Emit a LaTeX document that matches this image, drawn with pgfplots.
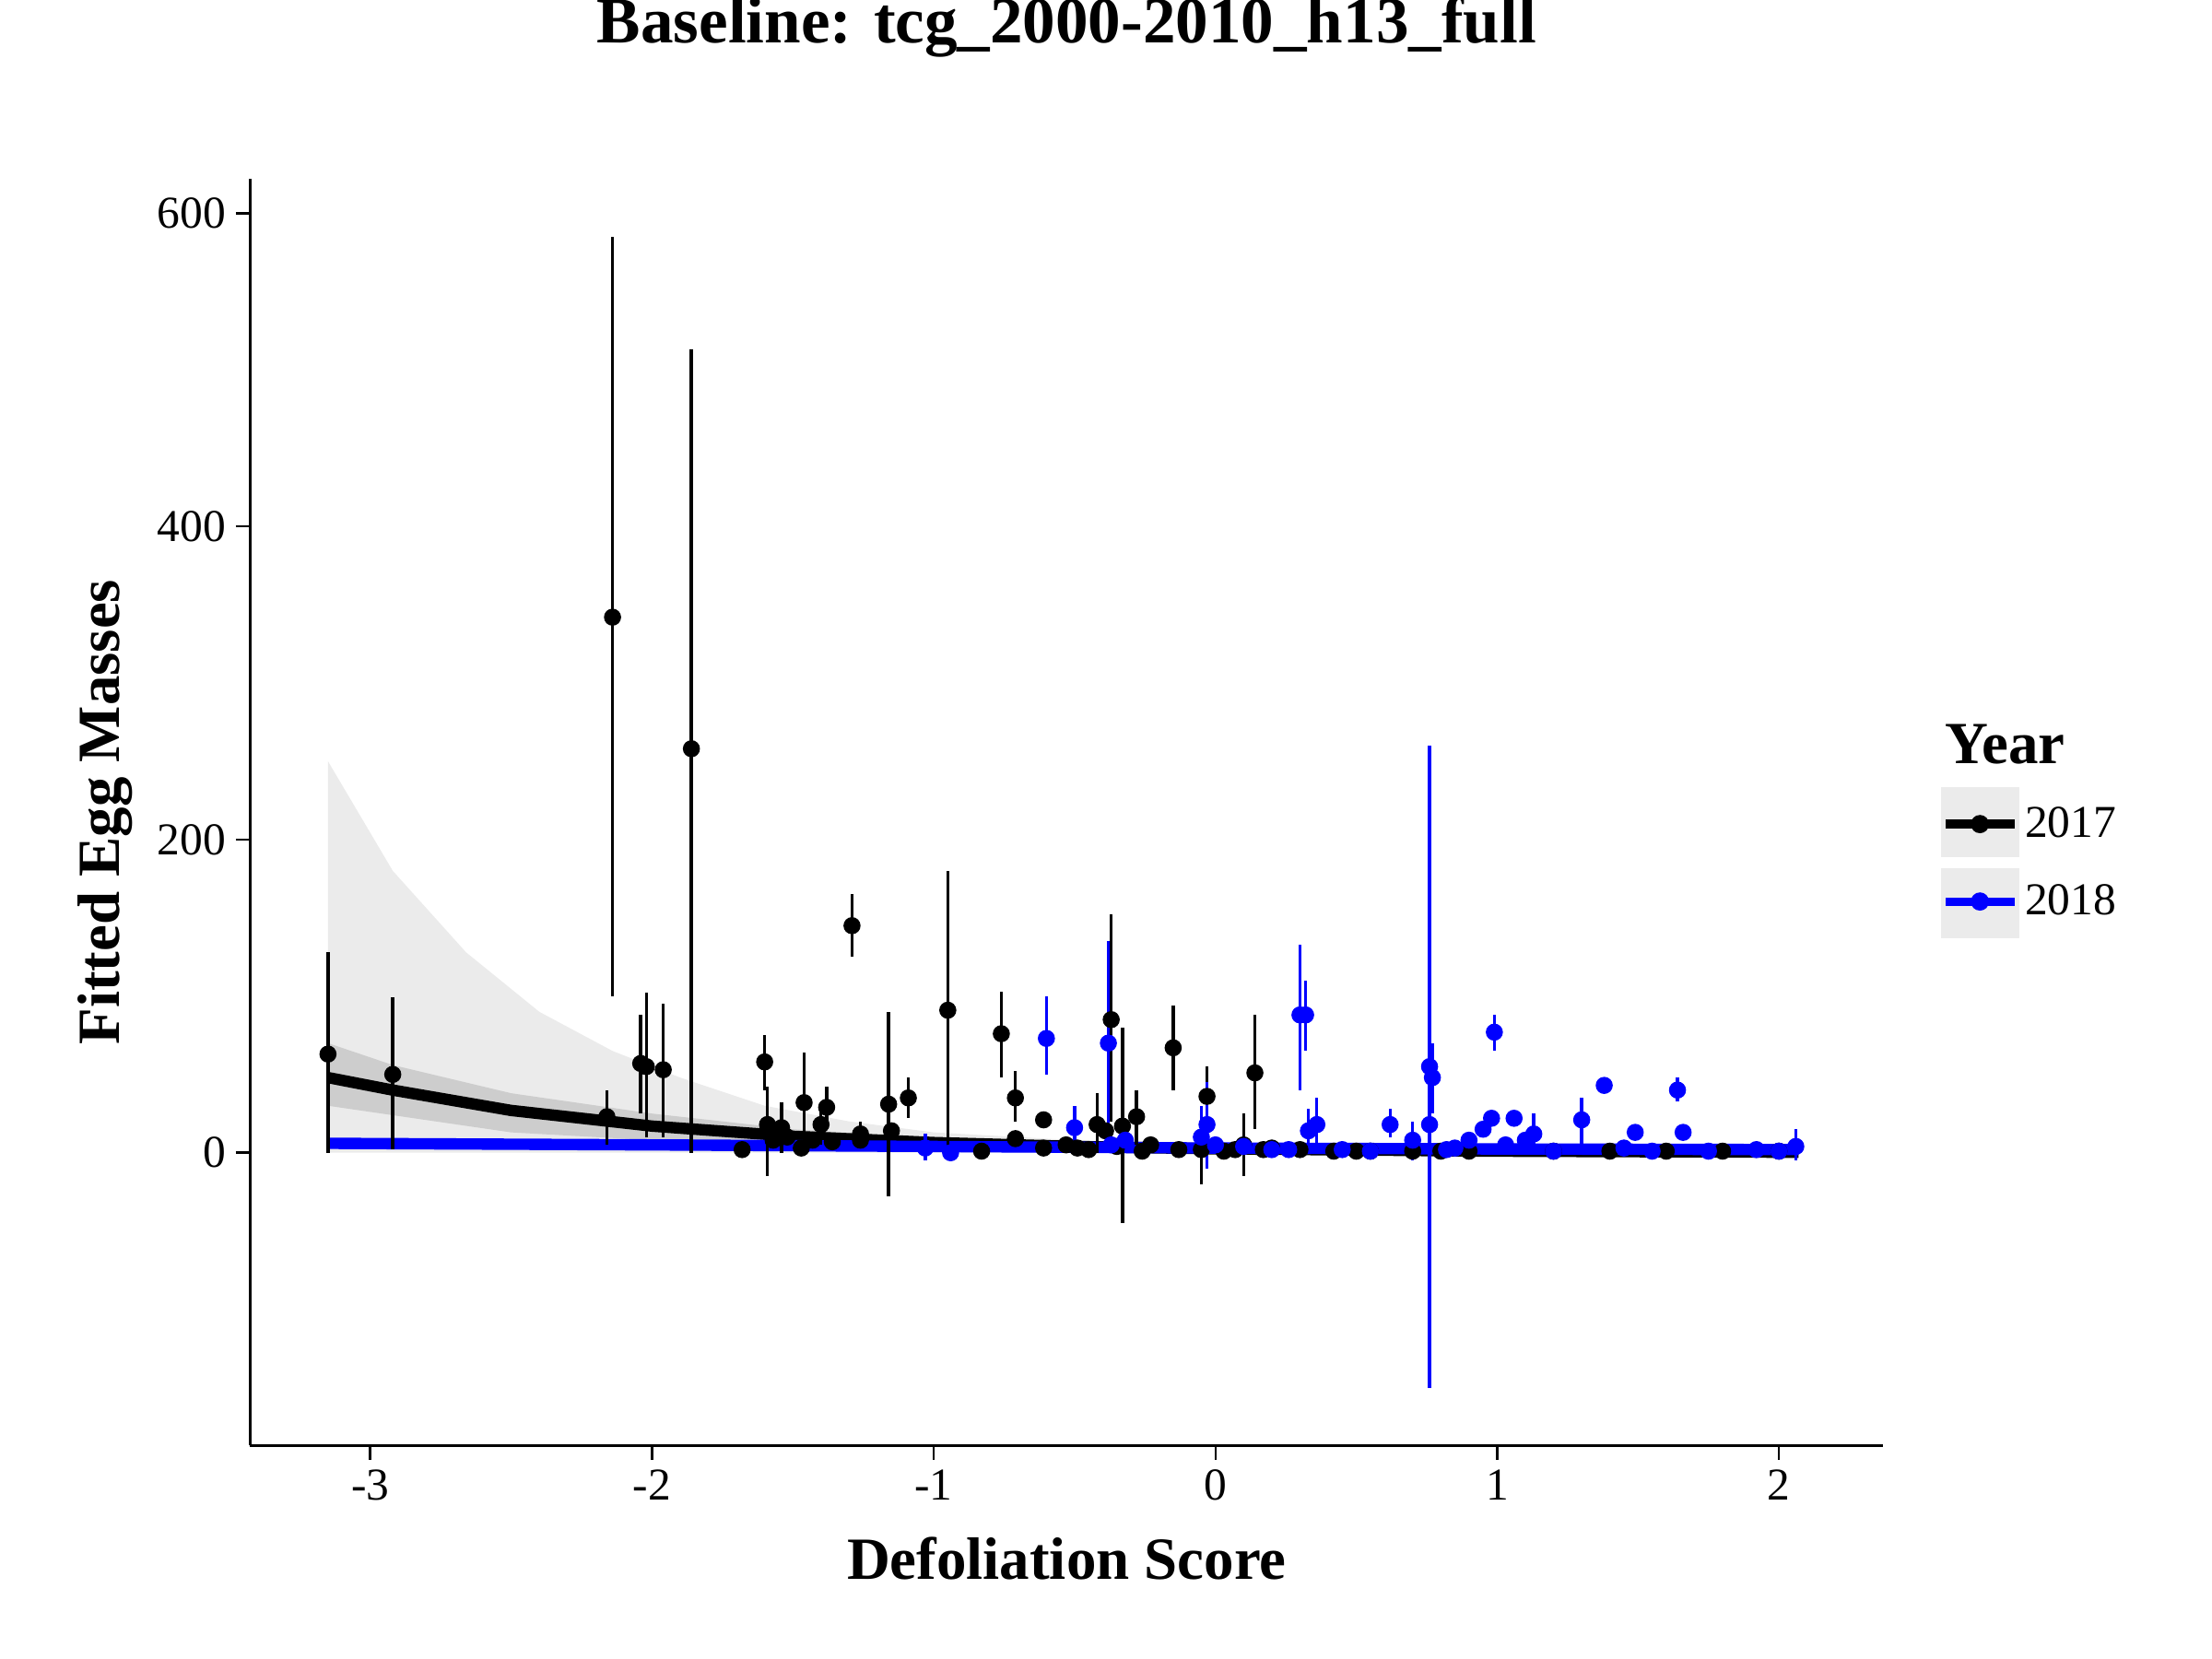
\documentclass[border=0pt]{standalone}
\usepackage{pgfplots}
\pgfplotsset{compat=1.18}
\usepackage{pgfplotstable}
\usepackage{fontspec}
\setmainfont{Liberation Serif}
\definecolor{bandA}{RGB}{235,235,235}
\definecolor{bandB}{RGB}{205,205,205}
\pgfplotstableread{
x y ep em
-3.15 63 65 63
-2.92 50 49 48
-2.16 23 17 18
-2.14 342 243 242
-2.04 57 31 32
-2.02 55 47 45
-1.96 53 42 43
-1.86 258 255 258
-1.68 2 0 0
-1.60 58 17 18
-1.59 18 24 33
-1.57 8 0 0
-1.54 16 16 16
-1.52 10 0 0
-1.47 3 0 0
-1.46 32 32 27
-1.43 8 0 0
-1.40 18 12 13
-1.38 29 13 14
-1.36 7 0 0
-1.26 12 8 7
-1.26 8 0 0
-1.29 145 20 20
-1.16 31 59 59
-1.15 14 0 0
-1.09 35 13 13
-0.95 91 89 89
-0.83 1 0 0
-0.76 76 27 28
-0.71 35 17 15
-0.71 9 0 0
-0.61 21 0 0
-0.61 3 0 0
-0.53 5 0 0
-0.49 3 0 0
-0.45 2 0 0
-0.42 18 20 18
-0.39 14 0 0
-0.37 85 67 65
-0.35 4 0 0
-0.33 17 63 62
-0.28 23 17 18
-0.26 1 0 0
-0.23 5 0 0
-0.15 67 27 27
-0.13 2 0 0
-0.05 2 23 22
-0.03 36 19 21
0.03 1 0 0
0.07 2 0 0
0.10 5 20 20
0.14 51 37 36
0.17 2 0 0
0.20 3 0 0
0.30 2 0 0
0.42 1 0 0
0.50 1 0 0
0.55 1 0 0
0.70 1 0 0
0.80 1 0 0
0.90 1 0 0
1.20 1 0 0
1.40 1 0 0
1.60 1 0 0
1.80 1 0 0
2.00 1 0 0
}\blk
\pgfplotstableread{
x y ep em
-1.03 3 9 8
-0.94 0 0 0
-0.60 73 27 23
-0.50 16 14 11
-0.38 70 65 60
-0.37 5 0 0
-0.32 8 0 0
-0.05 10 20 10
-0.03 18 27 28
0.00 5 0 0
0.10 4 0 0
0.20 2 0 0
0.26 2 0 0
0.30 88 45 48
0.32 88 22 23
0.33 14 14 14
0.36 18 17 13
0.45 2 0 0
0.55 1 0 0
0.62 18 10 8
0.70 8 12 13
0.76 55 20 20
0.76 18 242 168
0.77 48 22 23
0.82 2 0 0
0.85 3 0 0
0.90 8 0 0
0.95 15 0 0
0.98 22 0 0
0.99 77 11 12
1.03 5 0 0
1.06 22 0 0
1.10 8 0 0
1.13 12 13 12
1.20 1 0 0
1.30 21 14 16
1.38 43 5 5
1.45 3 0 0
1.49 13 0 0
1.55 1 0 0
1.64 40 8 7
1.66 13 0 0
1.75 1 0 0
1.92 2 0 0
2.00 1 0 0
2.06 4 11 9
}\blu
\begin{document}
\begin{tikzpicture}
\begin{axis}[
  scale only axis, width=571bp, height=443bp,
  xmin=-3.426, xmax=2.37, ymin=-187, ymax=622,
  axis lines=left, axis line style={-, line width=0.8pt},
  xtick={-3,-2,-1,0,1,2}, ytick={0,200,400,600},
  tick align=outside, tick style={line width=0.8pt, black}, major tick length=5bp,
  ticklabel style={font=\fontsize{16}{18}\selectfont},
  /pgf/number format/assume math mode=true,
  xlabel={\textbf{Defoliation Score}}, ylabel={\textbf{Fitted Egg Masses}},
  label style={font=\fontsize{21}{24}\selectfont},
  xlabel style={yshift=-6bp}, ylabel style={yshift=2bp},
  title={\textbf{Baseline: tcg\_2000-2010\_h13\_full}},
  title style={font=\fontsize{23}{26}\selectfont, yshift=33bp},
  clip=false,
  legend style={at={(1.03,0.46)}, anchor=west, draw=none, fill=none, font=\fontsize{16}{18}\selectfont, row sep=4bp},
  legend cell align=left,
]
\addplot[fill=bandA, draw=none, forget plot] coordinates {
(-3.15,250)(-2.92,180)(-2.66,128)(-2.4,90)(-2.14,65)(-1.9,48)(-1.6,30)(-1.3,20)(-1,13)(-0.5,8)(0,5)(1,3)(2.07,2)
(2.07,0)(-3.15,0)} -- cycle;
\addplot[fill=bandB, draw=none, forget plot] coordinates {
(-3.15,70)(-2.92,56)(-2.5,38)(-2,25)(-1.5,15)(-1,9)(-0.5,5.5)(0,3.5)(1,1.8)(2.07,1)
(2.07,0)(1,0.5)(0,1.5)(-1,3)(-1.5,5)(-2,8)(-2.5,13)(-3.15,30)} -- cycle;
\addplot[black, line width=4pt, forget plot] coordinates {
(-3.15,48)(-2.92,40)(-2.5,27)(-2,17)(-1.5,10.5)(-1,6.5)(-0.5,4)(0,2.5)(1,1)(2.07,0.3)};
\addplot[blue, line width=4pt, forget plot] coordinates {
(-3.15,6)(-2,5)(-1,4)(0,3)(1,2.4)(2.07,2)};
\addplot[only marks, mark=*, mark size=2.8pt, black, forget plot,
  error bars/.cd, y dir=both, y explicit, error mark=none, error bar style={line width=1.1pt}]
  table[y error plus=ep, y error minus=em] {\blk};
\addplot[only marks, mark=*, mark size=2.8pt, blue, forget plot,
  error bars/.cd, y dir=both, y explicit, error mark=none, error bar style={line width=1.1pt}]
  table[y error plus=ep, y error minus=em] {\blu};
\addlegendimage{legend image code/.code={\fill[bandA] (-0.05cm,-0.4cm) rectangle (0.9cm,0.45cm);\draw[black,line width=3pt] (0,0)--(0.85cm,0);\fill[black] (0.42cm,0) circle (3pt);}}
\addlegendentry{2017}
\addlegendimage{legend image code/.code={\fill[bandA] (-0.05cm,-0.45cm) rectangle (0.9cm,0.4cm);\draw[blue,line width=3pt] (0,0)--(0.85cm,0);\fill[blue] (0.42cm,0) circle (3pt);}}
\addlegendentry{2018}
\node[anchor=south west, font=\fontsize{21}{24}\selectfont\bfseries] at (rel axis cs:1.032,0.53) {Year};
\coordinate (sw) at (rel axis cs:0,0);
\coordinate (ne) at (rel axis cs:1,1);
\end{axis}
\pgfresetboundingbox
\path[use as bounding box] ([xshift=-87.5bp,yshift=-74.5bp]sw) rectangle ([xshift=115bp,yshift=62.5bp]ne);
\end{tikzpicture}
\end{document}
